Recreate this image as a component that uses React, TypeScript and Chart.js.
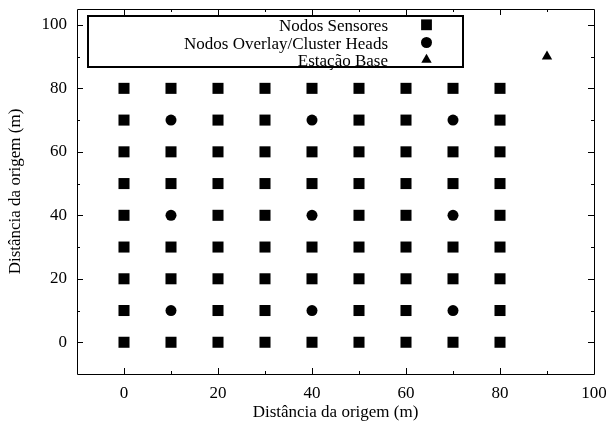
import React, { useEffect, useRef } from 'react';
import { Chart, registerables } from 'chart.js';

Chart.register(...registerables);

// Sensor nodes (squares)
const sensorPoints: [number, number][] = [
  [0, 80], [10, 80], [20, 80], [30, 80], [40, 80], [50, 80], [60, 80], [70, 80], [80, 80],
  [0, 70], [20, 70], [30, 70], [50, 70], [60, 70], [80, 70],
  [0, 60], [10, 60], [20, 60], [30, 60], [40, 60], [50, 60], [60, 60], [70, 60], [80, 60],
  [0, 50], [10, 50], [20, 50], [30, 50], [40, 50], [50, 50], [60, 50], [70, 50], [80, 50],
  [0, 40], [20, 40], [30, 40], [50, 40], [60, 40], [80, 40],
  [0, 30], [10, 30], [20, 30], [30, 30], [40, 30], [50, 30], [60, 30], [70, 30], [80, 30],
  [0, 20], [10, 20], [20, 20], [30, 20], [40, 20], [50, 20], [60, 20], [70, 20], [80, 20],
  [0, 10], [20, 10], [30, 10], [50, 10], [60, 10], [80, 10],
  [0, 0], [10, 0], [20, 0], [30, 0], [40, 0], [50, 0], [60, 0], [70, 0], [80, 0],
];

// Overlay nodes / cluster heads (circles)
const overlayPoints: [number, number][] = [
  [10, 70], [40, 70], [70, 70],
  [10, 40], [40, 40], [70, 40],
  [10, 10], [40, 10], [70, 10],
];

// Base station (triangle)
const basePoints: [number, number][] = [[90, 90]];

const seriesLabels = ['Nodos Sensores', 'Nodos Overlay/Cluster Heads', 'Estação Base'];
const seriesStyles = ['rect', 'circle', 'triangle'];

const xMajorTicks = [0, 20, 40, 60, 80, 100];
const yMajorTicks = [0, 20, 40, 60, 80, 100];
const xMinorTicks = [-10, 10, 30, 50, 70, 90];
const yMinorTicks = [-10, 10, 30, 50, 70, 90];

const xTitle = 'Distância da origem (m)';
const yTitle = 'Distância da origem (m)';

const FONT = "'Liberation Serif', 'Times New Roman', serif";

const framePlugin = {
  id: 'frameTicks',
  afterDatasetsDraw(chart: any) {
    const { ctx, chartArea } = chart;
    const { left, right, top, bottom } = chartArea;
    const xs = chart.scales.x;
    const ys = chart.scales.y;
    ctx.save();
    ctx.strokeStyle = '#000';
    ctx.lineWidth = 1;
    ctx.beginPath();
    ctx.rect(Math.round(left) + 0.5, Math.round(top) + 0.5, Math.round(right - left), Math.round(bottom - top));
    ctx.stroke();
    const drawX = (vals: number[], len: number) => {
      vals.forEach((v) => {
        const px = Math.round(xs.getPixelForValue(v)) + 0.5;
        if (px < left + 1 || px > right - 1) return;
        ctx.beginPath();
        ctx.moveTo(px, bottom);
        ctx.lineTo(px, bottom - len);
        ctx.moveTo(px, top);
        ctx.lineTo(px, top + len);
        ctx.stroke();
      });
    };
    const drawY = (vals: number[], len: number) => {
      vals.forEach((v) => {
        const py = Math.round(ys.getPixelForValue(v)) + 0.5;
        if (py < top + 1 || py > bottom - 1) return;
        ctx.beginPath();
        ctx.moveTo(left, py);
        ctx.lineTo(left + len, py);
        ctx.moveTo(right, py);
        ctx.lineTo(right - len, py);
        ctx.stroke();
      });
    };
    drawX(xMajorTicks, 6);
    drawX(xMinorTicks, 3);
    drawY(yMajorTicks, 6);
    drawY(yMinorTicks, 3);
    ctx.restore();
  },
};

function drawMarker(ctx: CanvasRenderingContext2D, style: string, x: number, y: number) {
  ctx.beginPath();
  if (style === 'rect') {
    const s = 5.4;
    ctx.rect(x - s, y - s, 2 * s, 2 * s);
  } else if (style === 'circle') {
    ctx.arc(x, y, 5.5, 0, Math.PI * 2);
  } else {
    const r = 6;
    ctx.moveTo(x, y - r);
    ctx.lineTo(x + r * Math.sin((2 * Math.PI) / 3), y - r * Math.cos((2 * Math.PI) / 3));
    ctx.lineTo(x + r * Math.sin((4 * Math.PI) / 3), y - r * Math.cos((4 * Math.PI) / 3));
    ctx.closePath();
  }
  ctx.fill();
}

const legendPlugin = {
  id: 'boxLegend',
  afterDraw(chart: any) {
    const { ctx } = chart;
    ctx.save();
    ctx.fillStyle = '#fff';
    ctx.fillRect(87, 15, 376, 53);
    ctx.strokeStyle = '#000';
    ctx.lineWidth = 2;
    ctx.strokeRect(88, 16, 375, 51);
    ctx.fillStyle = '#000';
    ctx.font = `17px ${FONT}`;
    ctx.textAlign = 'right';
    ctx.textBaseline = 'alphabetic';
    const baselines = [31, 48.5, 66];
    const markerY = [24.8, 42.5, 59.8];
    chart.data.datasets.forEach((ds: any, i: number) => {
      ctx.fillText(ds.label, 388, baselines[i]);
      drawMarker(ctx, seriesStyles[i], 426.5, markerY[i]);
    });
    ctx.restore();
  },
};

export default function App() {
  const ref = useRef<HTMLCanvasElement | null>(null);
  useEffect(() => {
    if (!ref.current) return;
    const toXY = (pts: [number, number][]) => pts.map(([x, y]) => ({ x, y }));
    const chart = new Chart(ref.current, {
      type: 'scatter',
      data: {
        datasets: [
          {
            label: seriesLabels[0],
            data: toXY(sensorPoints),
            pointStyle: 'rect',
            pointRadius: 7.8,
            backgroundColor: '#000',
            borderWidth: 0,
          },
          {
            label: seriesLabels[1],
            data: toXY(overlayPoints),
            pointStyle: 'circle',
            pointRadius: 5.5,
            backgroundColor: '#000',
            borderWidth: 0,
          },
          {
            label: seriesLabels[2],
            data: toXY(basePoints),
            pointStyle: 'triangle',
            pointRadius: 6,
            backgroundColor: '#000',
            borderWidth: 0,
          },
        ],
      },
      options: {
        animation: false,
        responsive: false,
        maintainAspectRatio: false,
        layout: { padding: { top: 9, right: 12, left: 0, bottom: 0 } },
        plugins: {
          legend: { display: false },
          tooltip: { enabled: false },
        },
        scales: {
          x: {
            type: 'linear',
            min: -10,
            max: 100,
            grid: { display: false, drawTicks: false },
            border: { display: false },
            afterBuildTicks: (s: any) => {
              s.ticks = xMajorTicks.map((v) => ({ value: v }));
            },
            afterFit: (s: any) => {
              s.height = 51;
              s.paddingLeft = 0;
              s.paddingRight = 0;
            },
            ticks: {
              color: '#000',
              padding: 9,
              font: { family: FONT, size: 17 },
              maxRotation: 0,
              autoSkip: false,
            },
            title: {
              display: true,
              text: xTitle,
              color: '#000',
              font: { family: FONT, size: 17 },
              padding: { top: 0, bottom: 2 },
            },
          },
          y: {
            type: 'linear',
            min: -10,
            max: 105,
            grid: { display: false, drawTicks: false },
            border: { display: false },
            afterBuildTicks: (s: any) => {
              s.ticks = yMajorTicks.map((v) => ({ value: v }));
            },
            afterFit: (s: any) => {
              s.width = 77;
              s.paddingTop = 0;
              s.paddingBottom = 0;
            },
            ticks: {
              color: '#000',
              padding: 10,
              font: { family: FONT, size: 17 },
              autoSkip: false,
            },
            title: {
              display: true,
              text: yTitle,
              color: '#000',
              font: { family: FONT, size: 17 },
              padding: { top: 5, bottom: 0 },
            },
          },
        },
      },
      plugins: [framePlugin, legendPlugin],
    } as any);
    return () => chart.destroy();
  }, []);
  return (
    <div style={{ position: 'fixed', left: 0, top: 0, width: 606, height: 425, background: '#fff' }}>
      <canvas ref={ref} width={606} height={425} style={{ display: 'block' }} />
    </div>
  );
}
